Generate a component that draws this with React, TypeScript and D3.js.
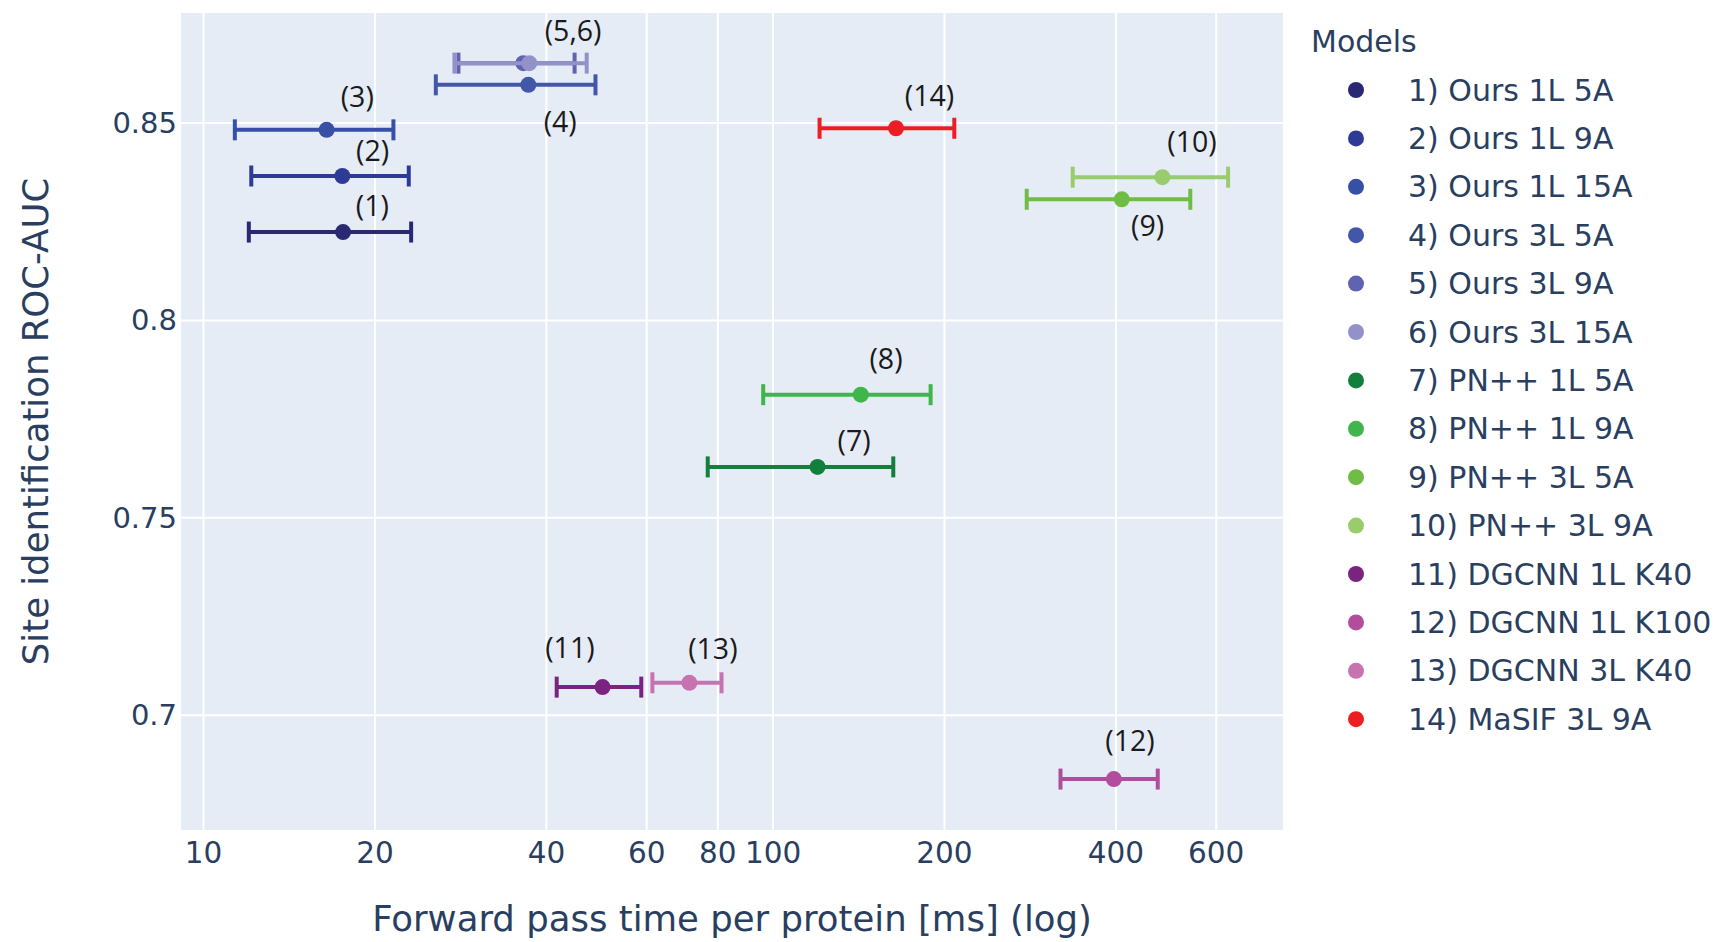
import React from "react";
import * as d3 from "d3";

const modelNames = [
  "1) Ours 1L 5A",
  "2) Ours 1L 9A",
  "3) Ours 1L 15A",
  "4) Ours 3L 5A",
  "5) Ours 3L 9A",
  "6) Ours 3L 15A",
  "7) PN++ 1L 5A",
  "8) PN++ 1L 9A",
  "9) PN++ 3L 5A",
  "10) PN++ 3L 9A",
  "11) DGCNN 1L K40",
  "12) DGCNN 1L K100",
  "13) DGCNN 3L K40",
  "14) MaSIF 3L 9A",
];
const timeMs = [17.58, 17.53, 16.45, 37.18, 36.43, 37.33, 119.7, 142.6, 409.6, 482.7, 50.2, 396.7, 71.3, 164.4];
const timeErr = [5.57, 5.4, 5.1, 11.6, 8.4, 9.75, 42.9, 46.5, 130.7, 146.8, 8.5, 77, 9.9, 43.7];
const rocAuc = [0.8224, 0.8366, 0.8483, 0.8597, 0.8652, 0.8652, 0.7629, 0.7812, 0.8307, 0.8363, 0.7071, 0.6838, 0.7082, 0.8487];
const modelColors = [
  "#2a2873", "#2e3b96", "#3650a5", "#4357a8", "#5f63b0", "#9392c8",
  "#12803c", "#40b54b", "#70bd45", "#99cc6c",
  "#7a2480", "#b24c9c", "#c673b0", "#ee1d24",
];

const annotText = ["(1)", "(2)", "(3)", "(4)", "(5,6)", "(7)", "(8)", "(9)", "(10)", "(11)", "(12)", "(13)", "(14)"];
const annotX = [19.79, 19.81, 18.62, 42.3, 44.56, 138.8, 157.9, 454.7, 544.0, 43.99, 423.4, 78.4, 188.3];
const annotY = [0.8289, 0.8428, 0.8566, 0.8501, 0.8732, 0.7693, 0.79, 0.8238, 0.8451, 0.717, 0.6933, 0.7167, 0.8567];

const xTicks = [10, 20, 40, 60, 80, 100, 200, 400, 600];
const yTicks = [0.7, 0.75, 0.8, 0.85];
const yTickLabels = ["0.7", "0.75", "0.8", "0.85"];

const W = 1723;
const H = 942;
const plot = { left: 181, right: 1283, top: 13, bottom: 830 };
const TEXT = "#2a3f5f";
const FONT = "'DejaVu Sans', Verdana, sans-serif";

export default function App() {
  const x = d3.scaleLog().domain([9.13, 786]).range([plot.left, plot.right]);
  const y = d3.scaleLinear().domain([0.6709, 0.8779]).range([plot.bottom, plot.top]);

  const capH = 10.5;
  const legendX = 1356;
  const legendTextX = 1408;
  const legendY0 = 90;
  const legendStep = 48.4;

  return (
    <svg
      width={W}
      height={H}
      style={{ position: "absolute", left: 0, top: 0, background: "#fff" }}
      fontFamily={FONT}
    >
      <rect
        x={plot.left}
        y={plot.top}
        width={plot.right - plot.left}
        height={plot.bottom - plot.top}
        fill="#E5ECF6"
      />
      {xTicks.map((t) => (
        <line key={"gx" + t} x1={x(t)} x2={x(t)} y1={plot.top} y2={plot.bottom} stroke="#fff" strokeWidth={2} />
      ))}
      {yTicks.map((t) => (
        <line key={"gy" + t} x1={plot.left} x2={plot.right} y1={y(t)} y2={y(t)} stroke="#fff" strokeWidth={2} />
      ))}

      {/* error bars + markers */}
      {modelNames.map((name, i) => {
        const cy = y(rocAuc[i]);
        const x0 = x(timeMs[i] - timeErr[i]);
        const x1 = x(timeMs[i] + timeErr[i]);
        const c = modelColors[i];
        return (
          <g key={name}>
            <line x1={x0} x2={x1} y1={cy} y2={cy} stroke={c} strokeWidth={4} />
            <line x1={x0} x2={x0} y1={cy - capH} y2={cy + capH} stroke={c} strokeWidth={4} />
            <line x1={x1} x2={x1} y1={cy - capH} y2={cy + capH} stroke={c} strokeWidth={4} />
            <circle cx={x(timeMs[i])} cy={cy} r={8} fill={c} />
          </g>
        );
      })}

      {/* annotations */}
      {annotText.map((t, i) => (
        <text
          key={"a" + i}
          x={x(annotX[i])}
          y={y(annotY[i]) - 1.5}
          textAnchor="middle"
          dominantBaseline="central"
          fontFamily="'Open Sans', sans-serif"
          fontSize={28.5}
          fill="#1a1a1a"
        >
          {t}
        </text>
      ))}

      {/* x tick labels */}
      {xTicks.map((t) => (
        <text key={"tx" + t} x={x(t)} y={862.5} textAnchor="middle" fontSize={29.5} fill={TEXT}>
          {String(t)}
        </text>
      ))}
      {/* y tick labels */}
      {yTicks.map((t, i) => (
        <text
          key={"ty" + t}
          x={177}
          y={y(t)}
          textAnchor="end"
          dominantBaseline="central"
          fontSize={29}
          fill={TEXT}
        >
          {yTickLabels[i]}
        </text>
      ))}

      {/* axis titles */}
      <text x={(plot.left + plot.right) / 2} y={931} textAnchor="middle" fontSize={35.5} fill={TEXT}>
        Forward pass time per protein [ms] (log)
      </text>
      <text
        transform={`translate(48, ${(plot.top + plot.bottom) / 2}) rotate(-90)`}
        textAnchor="middle"
        fontSize={35.5}
        fill={TEXT}
      >
        Site identification ROC-AUC
      </text>

      {/* legend */}
      <text x={1311} y={51.7} fontSize={30} fill={TEXT}>
        Models
      </text>
      {modelNames.map((name, i) => {
        const ly = legendY0 + i * legendStep;
        return (
          <g key={"l" + i}>
            <circle cx={legendX} cy={ly} r={8} fill={modelColors[i]} />
            <text x={legendTextX} y={ly} dominantBaseline="central" fontSize={30} fill={TEXT}>
              {name}
            </text>
          </g>
        );
      })}
    </svg>
  );
}
